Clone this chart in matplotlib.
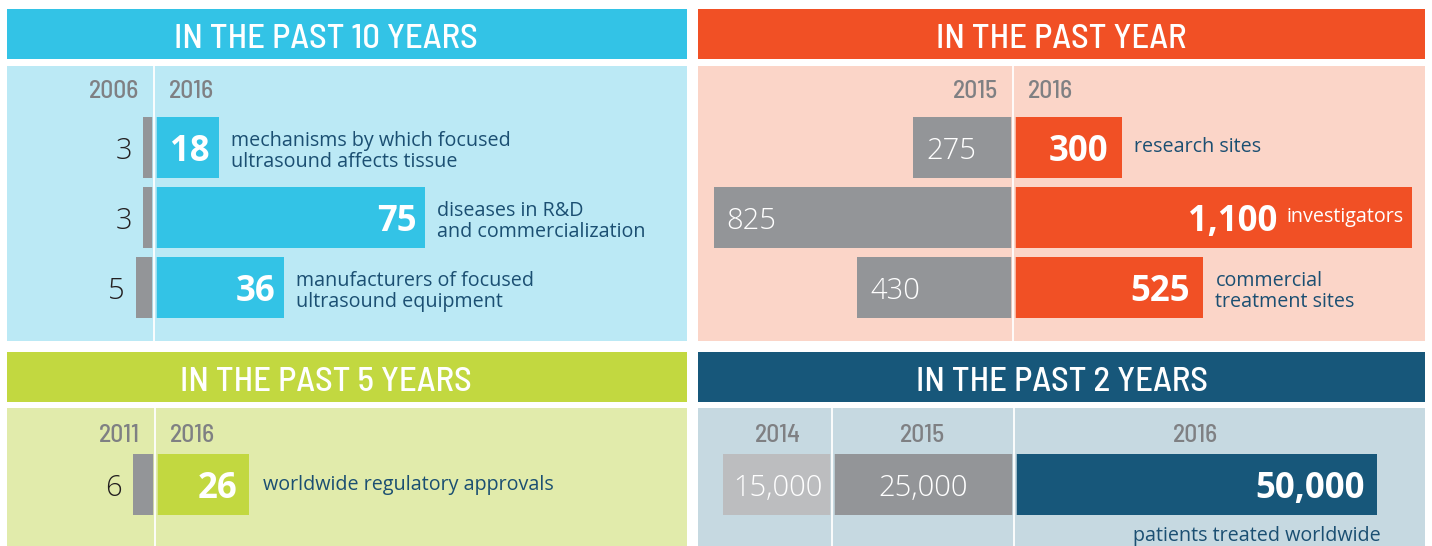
import matplotlib
matplotlib.use('Agg')
import matplotlib.pyplot as plt
from matplotlib import font_manager

W, H = 1432, 546
PT = 0.72          # points per pixel at dpi 100
ROW = 70.0         # pixels between bar rows
BAR_H = 61.5 / ROW

# ---- data ----
decade_years = ['2006', '2016']
decade_2006 = [3, 3, 5]
decade_2016 = [18, 75, 36]
decade_labels = ['mechanisms by which focused\nultrasound affects tissue',
                 'diseases in R&D\nand commercialization',
                 'manufacturers of focused\nultrasound equipment']

year_years = ['2015', '2016']
year_2015 = [275, 825, 430]
year_2016 = [300, 1100, 525]
year_labels = ['research sites', 'investigators', 'commercial\ntreatment sites']

five_years = ['2011', '2016']
five_2011 = [6]
five_2016 = [26]
five_labels = ['worldwide regulatory approvals']

two_years = ['2014', '2015', '2016']
two_values = [15000, 25000, 50000]
two_label = 'patients treated worldwide'

# ---- colours ----
BLUE, BLUE_BG = '#33c3e6', '#bbe9f5'
ORANGE, ORANGE_BG = '#f15025', '#fbd5c8'
GREEN, GREEN_BG = '#c2d840', '#e1ebab'
NAVY, NAVY_BG = '#17577a', '#c6d9e1'
GREY, LIGHT_GREY = '#939598', '#bcbdbf'
YEAR_C = '#7f8083'
TEXT_C = '#1b4f72'
DARK = '#231f20'

names = {f.name for f in font_manager.fontManager.ttflist}


def first_font(cands, fallback='DejaVu Sans'):
    return next((n for n in cands if n in names), fallback)


NARROW = first_font(['Barlow Semi Condensed', 'Roboto Condensed', 'Fira Sans Condensed',
                     'PT Sans Narrow', 'Archivo Narrow', 'Liberation Sans Narrow'])
SANS = first_font(['Open Sans'])
LIGHT = SANS

YEAR = dict(fontsize=19.5, family=NARROW, fontweight='medium', color=YEAR_C, va='center_baseline')
OLD = dict(fontsize=21, family=LIGHT, fontweight='light', va='center_baseline')
NEW = dict(fontsize=25, family=SANS, fontweight='bold', color='white', va='center_baseline')
DESC = dict(fontsize=14.2, family=SANS, color=TEXT_C, va='center', linespacing=1.05)

fig = plt.figure(figsize=(W / 100, H / 100), dpi=100, facecolor='white')
renderer = fig.canvas.get_renderer()


def fit_size(text, size, target_px, **kw):
    # font size that makes `text` about target_px wide
    t = fig.text(0, 0, text, fontsize=size, **kw)
    w = t.get_window_extent(renderer).width
    t.remove()
    return size * target_px / w


TITLE_SIZE = fit_size('IN THE PAST 10 YEARS', 22, 304, family=NARROW, fontweight='medium')
YEAR['fontsize'] = fit_size('2006', 19.5, 50, family=NARROW, fontweight='medium')


def px_axes(x0, y0, x1, y1, color):
    ax = fig.add_axes([x0 / W, 1 - y1 / H, (x1 - x0) / W, (y1 - y0) / H])
    ax.set_facecolor(color)
    ax.set_xticks([])
    ax.set_yticks([])
    for s in ax.spines.values():
        s.set_visible(False)
    return ax


def header(x0, y0, x1, y1, color, title, cx=None):
    ax = px_axes(x0, y0, x1, y1, color)
    cx = 0.5 if cx is None else (cx - x0) / (x1 - x0)
    ax.text(cx, 0.46, title, transform=ax.transAxes, ha='center', va='center_baseline',
            color='white', fontsize=TITLE_SIZE, family=NARROW, fontweight='medium')


def body(x0, y0, x1, y1, color, zero_px, px_per_unit, row0_px):
    ax = px_axes(x0, y0, x1, y1, color)
    ax.set_xlim((x0 - zero_px) / px_per_unit, (x1 - zero_px) / px_per_unit)
    ax.set_ylim((y1 - row0_px) / ROW, (y0 - row0_px) / ROW)
    return ax


def divider(ax, x, bg):
    ax.axvline(x, color=bg, lw=4.5 * PT, zorder=3)
    ax.axvline(x, color='white', lw=1.8 * PT, zorder=4)


def label(ax, s, xy, dx, ha, dy=0, **kw):
    return ax.annotate(s, xy, xytext=(dx * PT, dy * PT), textcoords='offset points',
                       ha=ha, zorder=5, **kw)


def desc_dy(s):
    # two-line captions sit a little low in the original
    return -4 if '\n' in s else 0


# ---- in the past 10 years ----
header(7, 9, 687, 59, BLUE, 'IN THE PAST 10 YEARS', cx=326)
ax = body(7, 66, 687, 341, BLUE_BG, 153.8, 3.62, 147.3)
rows = list(range(len(decade_2016)))
ax.barh(rows, [-v for v in decade_2006], height=BAR_H, color=GREY)
ax.barh(rows, decade_2016, height=BAR_H, color=BLUE)
divider(ax, 0, BLUE_BG)
yr = (88.8 - 147.3) / ROW
label(ax, decade_years[0], (0, yr), -15, 'right', **YEAR)
label(ax, decade_years[1], (0, yr), 15, 'left', **YEAR)
for i in rows:
    label(ax, str(decade_2006[i]), (-decade_2006[i], i), -11, 'right', color=DARK, **OLD)
    label(ax, str(decade_2016[i]), (decade_2016[i], i), -9, 'right', **NEW)
    label(ax, decade_labels[i], (decade_2016[i], i), 12, 'left',
          dy=desc_dy(decade_labels[i]), **DESC)

# ---- in the past year ----
header(698, 9, 1425, 59, ORANGE, 'IN THE PAST YEAR')
ax_y = body(698, 66, 1425, 341, ORANGE_BG, 1013, 0.3628, 147.3)
ax_y.barh(rows, [-v for v in year_2015], height=BAR_H, color=GREY)
ax_y.barh(rows, year_2016, height=BAR_H, color=ORANGE)
divider(ax_y, 0, ORANGE_BG)
label(ax_y, year_years[0], (0, yr), -15, 'right', **YEAR)
label(ax_y, year_years[1], (0, yr), 15, 'left', **YEAR)
for i in rows:
    label(ax_y, f'{year_2015[i]:,}', (-year_2015[i], i), 13, 'left', color='white', **OLD)

# ---- in the past 5 years ----
header(7, 352, 687, 402, GREEN, 'IN THE PAST 5 YEARS', cx=326)
ax = body(7, 408, 687, 546, GREEN_BG, 155, 3.62, 484.7)
r5 = list(range(len(five_2016)))
ax.barh(r5, [-v for v in five_2011], height=BAR_H, color=GREY)
ax.barh(r5, five_2016, height=BAR_H, color=GREEN)
divider(ax, 0, GREEN_BG)
yb = (433 - 484.7) / ROW
label(ax, five_years[0], (0, yb), -15, 'right', **YEAR)
label(ax, five_years[1], (0, yb), 15, 'left', **YEAR)
for i in r5:
    label(ax, str(five_2011[i]), (-five_2011[i], i), -12, 'right', color=DARK, **OLD)
    label(ax, str(five_2016[i]), (five_2016[i], i), -12, 'right', **NEW)
    label(ax, five_labels[i], (five_2016[i], i), 14, 'left', **DESC)

# ---- in the past 2 years ----
header(698, 352, 1425, 402, NAVY, 'IN THE PAST 2 YEARS')
ax = body(698, 408, 1425, 546, NAVY_BG, 1013.7, 0.00727, 484.7)
n = len(two_values)
lefts = [-sum(two_values[i:n - 1]) for i in range(n)]
ax.barh([0] * n, two_values, left=lefts, height=BAR_H, color=[LIGHT_GREY, GREY, NAVY])
for x in lefts[1:]:
    divider(ax, x, NAVY_BG)
for i in range(n):
    mid = lefts[i] + two_values[i] / 2
    label(ax, two_years[i], (mid, yb), 0, 'center', **YEAR)
for i in range(n - 1):
    mid = lefts[i] + two_values[i] / 2
    label(ax, f'{two_values[i]:,}', (mid, 0), 0, 'center', color='white', **OLD)
label(ax, f'{two_values[-1]:,}', (two_values[-1], 0), -12, 'right', **NEW)
label(ax, two_label, (two_values[-1], (536 - 484.7) / ROW), 4, 'right', **DESC)

# past year labels: put the description inside the bar when it would run off the panel
right_edge = ax_y.get_window_extent(renderer).x1
for i in rows:
    d = label(ax_y, year_labels[i], (year_2016[i], i), 12, 'left',
              dy=desc_dy(year_labels[i]), **DESC)
    num_dx = -14
    box = d.get_window_extent(renderer)
    if box.x1 > right_edge - 4:
        d.xyann = (-8 * PT, 0)
        d.set_ha('right')
        d.set_color('white')
        num_dx = -(8 + box.width + 10)
    label(ax_y, f'{year_2016[i]:,}', (year_2016[i], i), num_dx, 'right', **NEW)

fig.savefig('out.png', dpi=100)
